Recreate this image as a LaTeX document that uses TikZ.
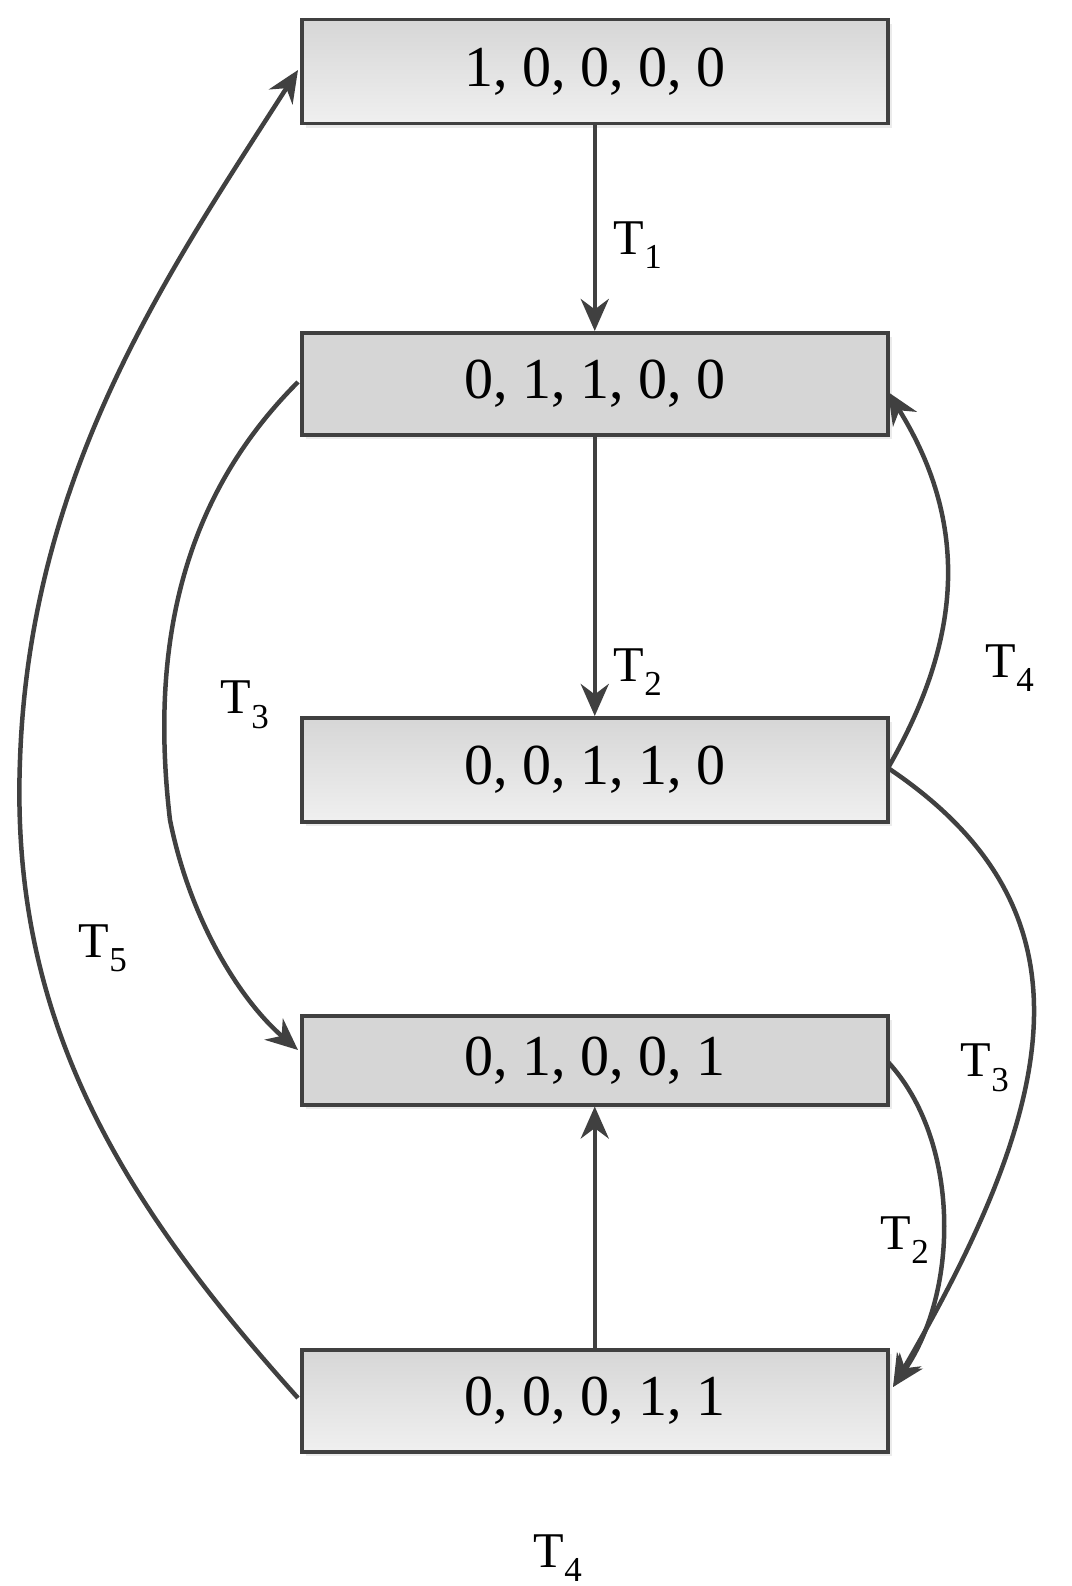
\documentclass[tikz,border=0pt]{standalone}
\usepackage{fontspec}
\setmainfont{Liberation Serif}
\usetikzlibrary{arrows.meta,shadows}
\definecolor{ln}{HTML}{404040}
\begin{document}
\begin{tikzpicture}[x=1pt,y=-1pt,
 box/.style={draw=ln,line width=3.5pt,minimum width=586pt,anchor=north west,inner sep=0pt,font=\fontsize{58}{58}\selectfont,drop shadow={shadow xshift=4pt,shadow yshift=-4pt,fill=black!8,opacity=1}},
 grad/.style={box,top color=black!16,bottom color=black!6},
 flat/.style={box,fill=black!16},
 arr/.style={draw=ln,line width=4.5pt,-{Stealth[length=32pt,width=28pt]}},
 lab/.style={font=\fontsize{50}{50}\selectfont}]
\useasboundingbox (0,0) rectangle (1071,1586);
\node[grad,minimum height=104pt] (b1) at (300,18) {1, 0, 0, 0, 0};
\node[flat,minimum height=102pt] (b2) at (300,331) {0, 1, 1, 0, 0};
\node[grad,minimum height=104pt] (b3) at (300,716) {0, 0, 1, 1, 0};
\node[flat,minimum height=89pt] (b4) at (300,1014) {0, 1, 0, 0, 1};
\node[grad,minimum height=102pt] (b5) at (300,1348) {0, 0, 0, 1, 1};
\draw[arr] (b1.south) -- (b2.north);
\draw[arr] (b2.south) -- (b3.north);
\draw[arr] (b5.north) -- (b4.south);
\coordinate (l5) at (298,1398);
\coordinate (l1) at (298,70);
\draw[arr] (l5) .. controls (120,1200) and (10,1020) .. (20,760) .. controls (30,470) and (170,270) .. (l1);
\coordinate (l2) at (298,382);
\coordinate (l4) at (298,1050);
\draw[arr] (l2) .. controls (180,500) and (150,650) .. (170,820) .. controls (190,920) and (240,1000) .. (l4);
\coordinate (r3) at (888,768);
\coordinate (r2) at (888,392);
\draw[arr] (r3) .. controls (950,660) and (980,540) .. (r2);
\coordinate (r5) at (893,1387);
\draw[arr] (r3) .. controls (1100,910) and (1060,1100) .. (r5);
\coordinate (r4) at (888,1062);
\draw[arr] (r4) .. controls (960,1140) and (960,1290) .. (r5);
\node[lab] (t1) at (638,245) {T\textsubscript{1}};
\node[lab] (t2) at (638,672) {T\textsubscript{2}};
\node[lab] (t3) at (245,705) {T\textsubscript{3}};
\node[lab] (t4) at (1010,668) {T\textsubscript{4}};
\node[lab] (t5) at (103,948) {T\textsubscript{5}};
\node[lab] (t3b) at (985,1068) {T\textsubscript{3}};
\node[lab] (t2b) at (905,1240) {T\textsubscript{2}};
\node[lab] (t4b) at (558,1558) {T\textsubscript{4}};
\end{tikzpicture}
\end{document}
